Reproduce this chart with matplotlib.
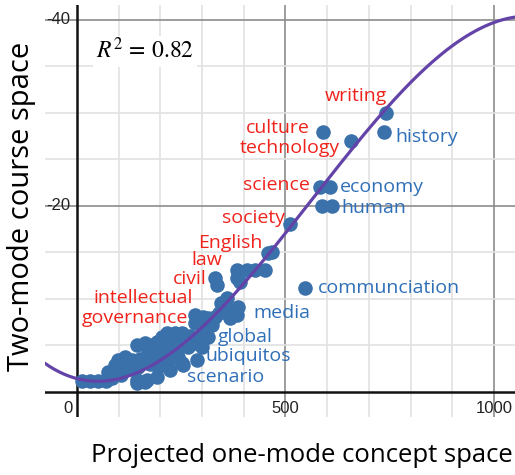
import numpy as np
import matplotlib.pyplot as plt

plt.rcParams['font.family'] = ['Open Sans', 'DejaVu Sans']
plt.rcParams['mathtext.fontset'] = 'stix'

# concept points: projected one-mode (x) vs two-mode course space (y)
dot_x = [12, 31, 50, 70, 84, 74, 91, 98, 115, 132, 144, 146, 144, 163, 170, 163,
         187, 192, 204, 216, 235, 252, 259, 194, 218, 242, 252, 235, 266, 295, 300,
         314, 283, 307, 324, 283, 302, 314, 331, 355, 367, 384, 367, 386, 360, 336,
         384, 391, 384, 408, 427, 451, 458, 143, 167, 191, 223, 255, 287, 200, 230,
         120, 105, 125, 150, 175, 180, 210, 225, 245, 270, 280, 310, 340, 345,
         741, 736, 591, 656, 583, 607, 587, 611, 511, 468, 331, 287, 547]
dot_y = [1.18, 1.18, 1.18, 1.18, 1.5, 2.15, 2.9, 3.44, 3.76, 3.44, 5.05, 2.7, 1.3,
         5.27, 4.19, 1.08, 4.5, 5.38, 5.9, 6.34, 6.34, 6.34, 5.27, 2.7, 3.1, 3.76,
         3.1, 5.6, 4.84, 5.9, 4.84, 5.9, 7.42, 7.0, 7.2, 8.28, 8.06, 7.96, 8.06,
         9.14, 8.8, 8.28, 7.96, 9.14, 10.1, 11.5, 12.26, 11.8, 13.1, 13.1, 13.1,
         13.1, 14.9, 0.93, 1.29, 1.65, 2.37, 2.9, 3.44, 4.0, 4.5, 2.5, 1.8,
         2.9, 3.5, 3.0, 5.0, 4.5, 5.3, 4.8, 6.0, 5.3, 6.8, 8.5, 9.6,
         30.0, 28.0, 28.0, 27.0, 22.0, 22.0, 20.0, 20.0, 18.1, 15.05, 12.26, 8.1, 11.15]

# cubic regression curve (coefficients, highest power first)
fit_coef = [-7.184e-8, 1.2177e-4, -0.011638, 1.4365]
r_squared = 0.82

red_words = ['writing', 'culture', 'technology', 'science', 'society', 'English',
             'law', 'civil', 'intellectual', 'governance']
red_pos = [(669, 31.8), (559, 28.4), (631, 26.2), (559, 22.3), (499, 18.7),
           (446, 16.0), (348, 14.2), (312, 12.15), (278, 10.1), (266, 7.96)]
blue_words = ['history', 'economy', 'human', 'communciation', 'media', 'global',
              'ubiquitos', 'scenario']
blue_pos = [(763, 27.4), (631, 22.0), (635, 19.8), (578, 11.2), (422, 8.5),
            (338, 5.9), (307, 3.9), (264, 1.6)]

x_ticks = [0, 500, 1000]
x_ticklabels = ['0', '500', '1000']
y_ticks = [20, 40]
y_ticklabels = ['-20', '-40']

fig = plt.figure(figsize=(5.15, 4.75), dpi=100)
ax = fig.add_axes([45 / 515, 58 / 475, 470 / 515, 412 / 475])
xmin, xmax, ymin, ymax = -76.7, 1050.4, -2.69, 41.61
ax.set_xlim(xmin, xmax)
ax.set_ylim(ymin, ymax)
for s in ax.spines.values():
    s.set_visible(False)
ax.set_xticks([])
ax.set_yticks([])

# grid
for v in range(100, 1100, 100):
    major = v % 500 == 0
    ax.axvline(v, color='#8c8c8c' if major else '#e2e2e2', lw=1.2, zorder=0)
for v in range(5, 45, 5):
    major = v % 20 == 0
    ax.axhline(v, color='#8c8c8c' if major else '#e2e2e2', lw=1.2, zorder=0)
ax.axhline(0, color='#111111', lw=1.8, zorder=1)
ax.axvline(0, color='#111111', lw=1.8, zorder=1)

# tick labels drawn inside the graph area
tick_font = dict(family='Liberation Sans', fontsize=12, color='#222222')
for t, lab in zip(x_ticks, x_ticklabels):
    xpos = t if t else -22
    ax.text(xpos, -1.75, lab, ha='center', va='center', **tick_font)
for t, lab in zip(y_ticks, y_ticklabels):
    ax.text(-17, t, lab, ha='right', va='center', **tick_font)

ax.scatter(dot_x, dot_y, s=110, color='#3a71ab', linewidths=0, zorder=3)

xs = np.linspace(xmin, xmax, 400)
ax.plot(xs, np.polyval(fit_coef, xs), color='#6343a8', lw=2.3, zorder=4)

for w, (px, py) in zip(red_words, red_pos):
    ax.text(px, py, w, color='#f0231c', fontsize=14,
            ha='center' if w == 'writing' else 'right', va='center', zorder=5)
for w, (px, py) in zip(blue_words, blue_pos):
    ax.text(px, py, w, color='#2f6fb8', fontsize=14, ha='left', va='center', zorder=5)

ax.text(163, 36.6, r'$R^2\,=\,%.2f$' % r_squared, fontsize=17, ha='center', va='center',
        bbox=dict(facecolor='white', edgecolor='none', pad=2), zorder=5)

fig.text(22 / 515, 1 - 206 / 475, 'Two-mode course space', rotation=90,
         ha='center', va='center', fontsize=21)
fig.text(302 / 515, 1 - 455 / 475, 'Projected one-mode concept space',
         ha='center', va='center', fontsize=18.5)

fig.savefig('out.png', dpi=100)
